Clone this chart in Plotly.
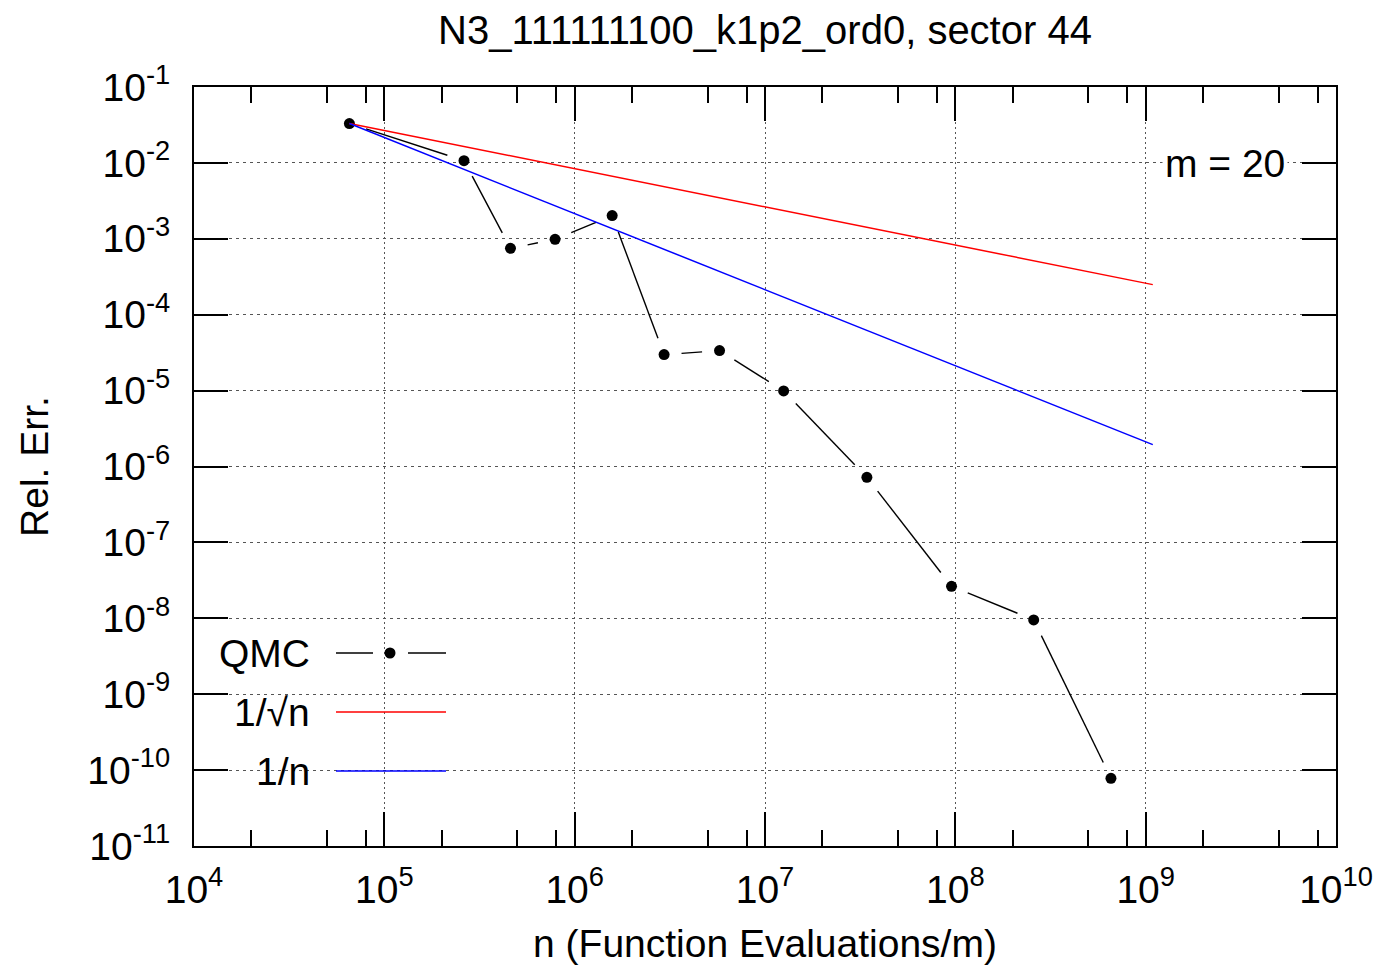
import math
import plotly.graph_objects as go

# ---------------- data ----------------
n_qmc = [65536, 262144, 460000, 789000, 1574000, 2950000, 5770000,
         12530000, 34300000, 95500000, 258000000, 657000000]
err_qmc = [3.30e-2, 1.07e-2, 7.50e-4, 9.85e-4, 2.02e-3, 2.98e-5, 3.37e-5,
           9.90e-6, 7.21e-7, 2.64e-8, 9.53e-9, 7.80e-11]

n_ref = [65536, 1.09e9]
err_sqrt = [3.30e-2, 2.49e-4]
err_lin = [3.30e-2, 1.94e-6]

x_tickvals = [1e4, 1e5, 1e6, 1e7, 1e8, 1e9, 1e10]
x_ticktext = ["10<sup>4</sup>", "10<sup>5</sup>", "10<sup>6</sup>", "10<sup>7</sup>",
              "10<sup>8</sup>", "10<sup>9</sup>", "10<sup>10</sup>"]
x_minor = [m * 10 ** e for e in range(4, 10) for m in (2, 5, 8)]
y_tickvals = [10.0 ** e for e in range(-11, 0)]
y_ticktext = ["10<sup>%d</sup>" % e for e in range(-11, 0)]

title_text = "N3_111111100_k1p2_ord0, sector 44"
x_title = "n (Function Evaluations/m)"
y_title = "Rel. Err."
legend_labels = ["QMC", "1/\u221an", "1/n"]
note_text = "m = 20"

# ---------------- layout geometry ----------------
W, H = 1377, 966
ML, MR, MT, MB = 194, 41, 87, 120
PW, PH = W - ML - MR, H - MT - MB
X_RANGE = [4, 10]
Y_RANGE = [-11, -1]
PX_X = PW / (X_RANGE[1] - X_RANGE[0])
PX_Y = PH / (Y_RANGE[1] - Y_RANGE[0])
GAP = 17.5  # gap (px) around each point, gnuplot linespoints style
FONT = "Liberation Sans, Arial, Helvetica, sans-serif"
FS = 39


def px2paper_x(px):
    return (px - ML) / PW


def px2paper_y(py):
    return (H - MB - py) / PH


# shortened segments between points (gaps around markers)
seg_x, seg_y = [], []
for i in range(len(n_qmc) - 1):
    lx0, ly0 = math.log10(n_qmc[i]), math.log10(err_qmc[i])
    lx1, ly1 = math.log10(n_qmc[i + 1]), math.log10(err_qmc[i + 1])
    L = math.hypot((lx1 - lx0) * PX_X, (ly1 - ly0) * PX_Y)
    if L <= 2 * GAP:
        continue
    f = GAP / L
    seg_x += [10 ** (lx0 + (lx1 - lx0) * f), 10 ** (lx1 - (lx1 - lx0) * f), None]
    seg_y += [10 ** (ly0 + (ly1 - ly0) * f), 10 ** (ly1 - (ly1 - ly0) * f), None]

fig = go.Figure()
fig.add_trace(go.Scatter(x=seg_x, y=seg_y, mode="lines",
                         line=dict(color="black", width=1.4),
                         showlegend=False, hoverinfo="skip"))
fig.add_trace(go.Scatter(x=n_qmc, y=err_qmc, mode="markers", name=legend_labels[0],
                         marker=dict(color="black", size=11), showlegend=False))
fig.add_trace(go.Scatter(x=n_ref, y=err_sqrt, mode="lines", name=legend_labels[1],
                         line=dict(color="#ff0000", width=1.5), showlegend=False))
fig.add_trace(go.Scatter(x=n_ref, y=err_lin, mode="lines", name=legend_labels[2],
                         line=dict(color="#0000ff", width=1.5), showlegend=False))

axis_common = dict(
    type="log",
    automargin=False,
    ticklabeloverflow="allow",
    tickmode="array",
    ticks="inside",
    ticklen=34,
    tickwidth=1.5,
    tickcolor="black",
    showline=True,
    linecolor="black",
    linewidth=2,
    mirror="allticks",
    showgrid=True,
    gridcolor="#555555",
    gridwidth=1,
    zeroline=False,
    tickfont=dict(family=FONT, size=FS, color="black"),
)

fig.update_layout(
    width=W, height=H,
    margin=dict(l=ML, r=MR, t=MT, b=MB, autoexpand=False),
    paper_bgcolor="white",
    plot_bgcolor="white",
    font=dict(family=FONT, color="black", size=FS),
    title=dict(text=title_text, x=0.5, xref="paper", xanchor="center",
               y=1 - 30 / H, yref="container", yanchor="middle",
               font=dict(family=FONT, size=40, color="black")),
    xaxis=dict(axis_common, range=X_RANGE, tickvals=x_tickvals, ticktext=x_ticktext,
               griddash="2px,3px", ticklabelstandoff=8,
               minor=dict(tickmode="array", tickvals=x_minor, ticks="inside",
                          ticklen=16, tickwidth=1.5, tickcolor="black", showgrid=False),
               title=dict(text=x_title, standoff=20,
                          font=dict(family=FONT, size=FS, color="black"))),
    yaxis=dict(axis_common, range=Y_RANGE, tickvals=y_tickvals, ticktext=y_ticktext,
               griddash="3px,4px", ticklabelstandoff=14,
               title=dict(text=y_title, standoff=27,
                          font=dict(family=FONT, size=FS, color="black"))),
    showlegend=False,
)

# ---------------- legend (gnuplot style: text left, sample right) ----------------
shapes = [
    dict(type="rect", xref="paper", yref="paper", layer="between",
         x0=0.001, x1=px2paper_x(470), y0=0.0, y1=px2paper_y(595),
         fillcolor="white", line=dict(width=0)),
    # QMC sample: line - dot - line
    dict(type="line", xref="paper", yref="paper", layer="above",
         x0=px2paper_x(336), x1=px2paper_x(373), y0=px2paper_y(653), y1=px2paper_y(653),
         line=dict(color="black", width=1.4)),
    dict(type="line", xref="paper", yref="paper", layer="above",
         x0=px2paper_x(408), x1=px2paper_x(446), y0=px2paper_y(653), y1=px2paper_y(653),
         line=dict(color="black", width=1.4)),
    dict(type="circle", xref="paper", yref="paper", layer="above",
         x0=px2paper_x(384.5), x1=px2paper_x(395.5), y0=px2paper_y(658.5), y1=px2paper_y(647.5),
         fillcolor="black", line=dict(color="black", width=0)),
    dict(type="line", xref="paper", yref="paper", layer="above",
         x0=px2paper_x(336), x1=px2paper_x(446), y0=px2paper_y(712), y1=px2paper_y(712),
         line=dict(color="#ff0000", width=1.5)),
    dict(type="line", xref="paper", yref="paper", layer="above",
         x0=px2paper_x(336), x1=px2paper_x(446), y0=px2paper_y(771), y1=px2paper_y(771),
         line=dict(color="#0000ff", width=1.5)),
]
annotations = []
for lab, py in zip(legend_labels, [653, 712, 771]):
    annotations.append(dict(text=lab, xref="paper", yref="paper",
                            x=px2paper_x(312), y=px2paper_y(py),
                            xanchor="right", yanchor="middle", showarrow=False,
                            font=dict(family=FONT, size=FS, color="black")))
annotations.append(dict(text=note_text, xref="paper", yref="paper",
                        x=px2paper_x(1225), y=px2paper_y(163),
                        xanchor="center", yanchor="middle", showarrow=False,
                        bgcolor="white", borderpad=2,
                        font=dict(family=FONT, size=FS, color="black")))
fig.update_layout(shapes=shapes, annotations=annotations)

fig.write_html("out.html")
